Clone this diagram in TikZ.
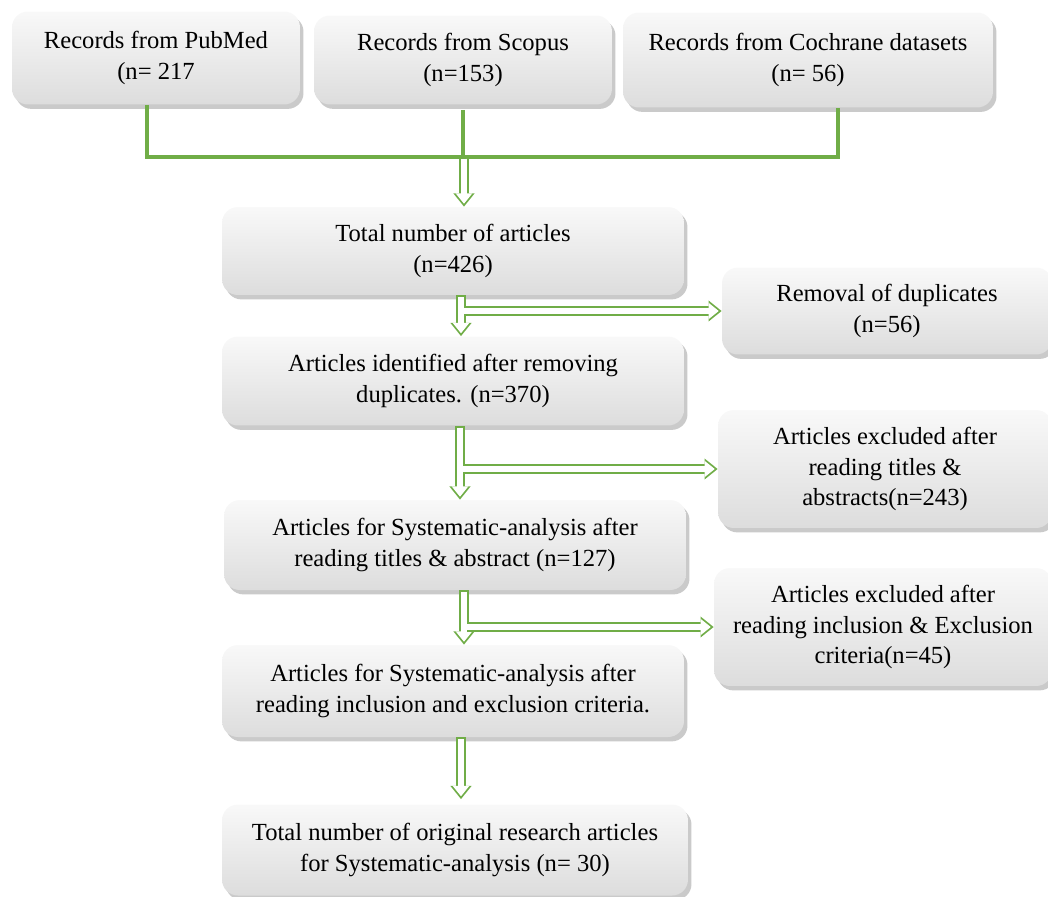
\documentclass[tikz,border=0pt]{standalone}
\usepackage{fontspec}
\setmainfont{Liberation Serif}
\usetikzlibrary{positioning}
\usetikzlibrary{shadows}
\usetikzlibrary{arrows.meta}
\definecolor{flowgreen}{RGB}{112,173,71}
\tikzset{>=stealth}
\tikzset{
	% grey rounded boxes
	recbox/.style={rounded corners=9pt,align=center,inner sep=2pt,
		top color=gray!5,bottom color=gray!27,
		drop shadow={shadow xshift=2pt,shadow yshift=-2.5pt,fill=gray!70,opacity=0.6},
		font=\fontsize{14}{17.5}\selectfont},
	% green lines joining the sources
	joinline/.style={draw=flowgreen,line width=1.8pt},
	% hollow arrows: green body, white inside
	dblarrow/.style={draw=flowgreen,line width=5.6pt,-{Triangle[length=7.5pt,width=11.5pt]},
		postaction={draw=white,line width=3.6pt,shorten >=1.64pt,shorten <=1pt,
			-{Triangle[length=5.86pt,width=9pt]}}},
	sidearrow/.style={draw=flowgreen,line width=5.6pt,-{Triangle[length=7.5pt,width=11.5pt]},
		postaction={draw=white,line width=3.6pt,shorten >=1.64pt,
			-{Triangle[length=5.86pt,width=9pt]}}},
}

\begin{document}
\begin{tikzpicture}[x=0.02cm,y=-0.02cm]
	\useasboundingbox (0,0) rectangle (1048,896);
	
	% sources
	\node[recbox,minimum width=5.76cm,minimum height=1.86cm] (pub) at (156,58) {Records from PubMed\\(n= 217};
	\node[recbox,minimum width=5.96cm,minimum height=1.78cm] (sco) at (463,60) {Records from Scopus\\(n=153)};
	\node[recbox,minimum width=7.4cm,minimum height=1.9cm] (coch) at (808,60) {Records from Cochrane datasets\\(n= 56)};
	
	% main column
	\node[recbox,minimum width=9.24cm,minimum height=1.76cm] (tot) at (453,251) {Total number of articles\\(n=426)};
	\node[recbox,minimum width=9.24cm,minimum height=1.78cm] (ident) at (453,381) {Articles identified after removing\\duplicates. (n=370)};
	\node[recbox,minimum width=9.24cm,minimum height=1.8cm] (sysa) at (455,545) {Articles for Systematic-analysis after\\reading titles \& abstract (n=127)};
	\node[recbox,minimum width=9.24cm,minimum height=1.84cm] (sysb) at (453,691) {Articles for Systematic-analysis after\\reading inclusion and exclusion criteria.};
	\node[recbox,minimum width=9.32cm,minimum height=1.82cm] (final) at (455,850) {Total number of original research articles\\for Systematic-analysis (n= 30)};
	
	% excluded
	\node[recbox,minimum width=6.6cm,minimum height=1.74cm] (remv) at (887,311) {Removal of duplicates\\(n=56)};
	\node[recbox,minimum width=6.68cm,minimum height=2.36cm] (exca) at (885,469) {Articles excluded after\\reading titles \&\\abstracts(n=243)};
	\node[recbox,minimum width=6.76cm,minimum height=2.36cm] (excb) at (883,627) {Articles excluded after\\reading inclusion \& Exclusion\\criteria(n=45)};
	
	% joining lines
	\coordinate (join) at (464,157);
	\draw[joinline] ([xshift=-0.18cm]pub.south) -- ([xshift=-0.18cm]pub.south |- join) -- ([xshift=0.6cm]coch.south |- join) -- ([xshift=0.6cm]coch.south);
	\draw[joinline] ([yshift=-0.1cm]sco.south) -- (sco.south |- join);
	\draw[sidearrow] ([yshift=-0.9pt]join) -- (join |- tot.north);
	
	% arrows down the column
	\draw[dblarrow] ([xshift=0.16cm]tot.south) -- ([xshift=0.16cm]tot.south |- ident.north);
	\draw[dblarrow] ([xshift=0.14cm]ident.south) -- ([xshift=0.14cm]ident.south |- sysa.north);
	\draw[dblarrow] ([xshift=0.18cm]sysa.south) -- ([xshift=0.18cm]sysa.south |- sysb.north);
	\draw[dblarrow] ([xshift=0.16cm]sysb.south) -- ([xshift=0.16cm,yshift=0.1cm]sysb.south |- final.north);
	
	% arrows to the side
	\draw[sidearrow] ([xshift=0.16cm+1.8pt]tot.south |- remv.west) -- (remv.west);
	\draw[sidearrow] ([xshift=0.14cm+1.8pt]ident.south |- exca.west) -- (exca.west);
	\draw[sidearrow] ([xshift=0.18cm+1.8pt]sysa.south |- excb.west) -- (excb.west);
	
\end{tikzpicture}
\end{document}
